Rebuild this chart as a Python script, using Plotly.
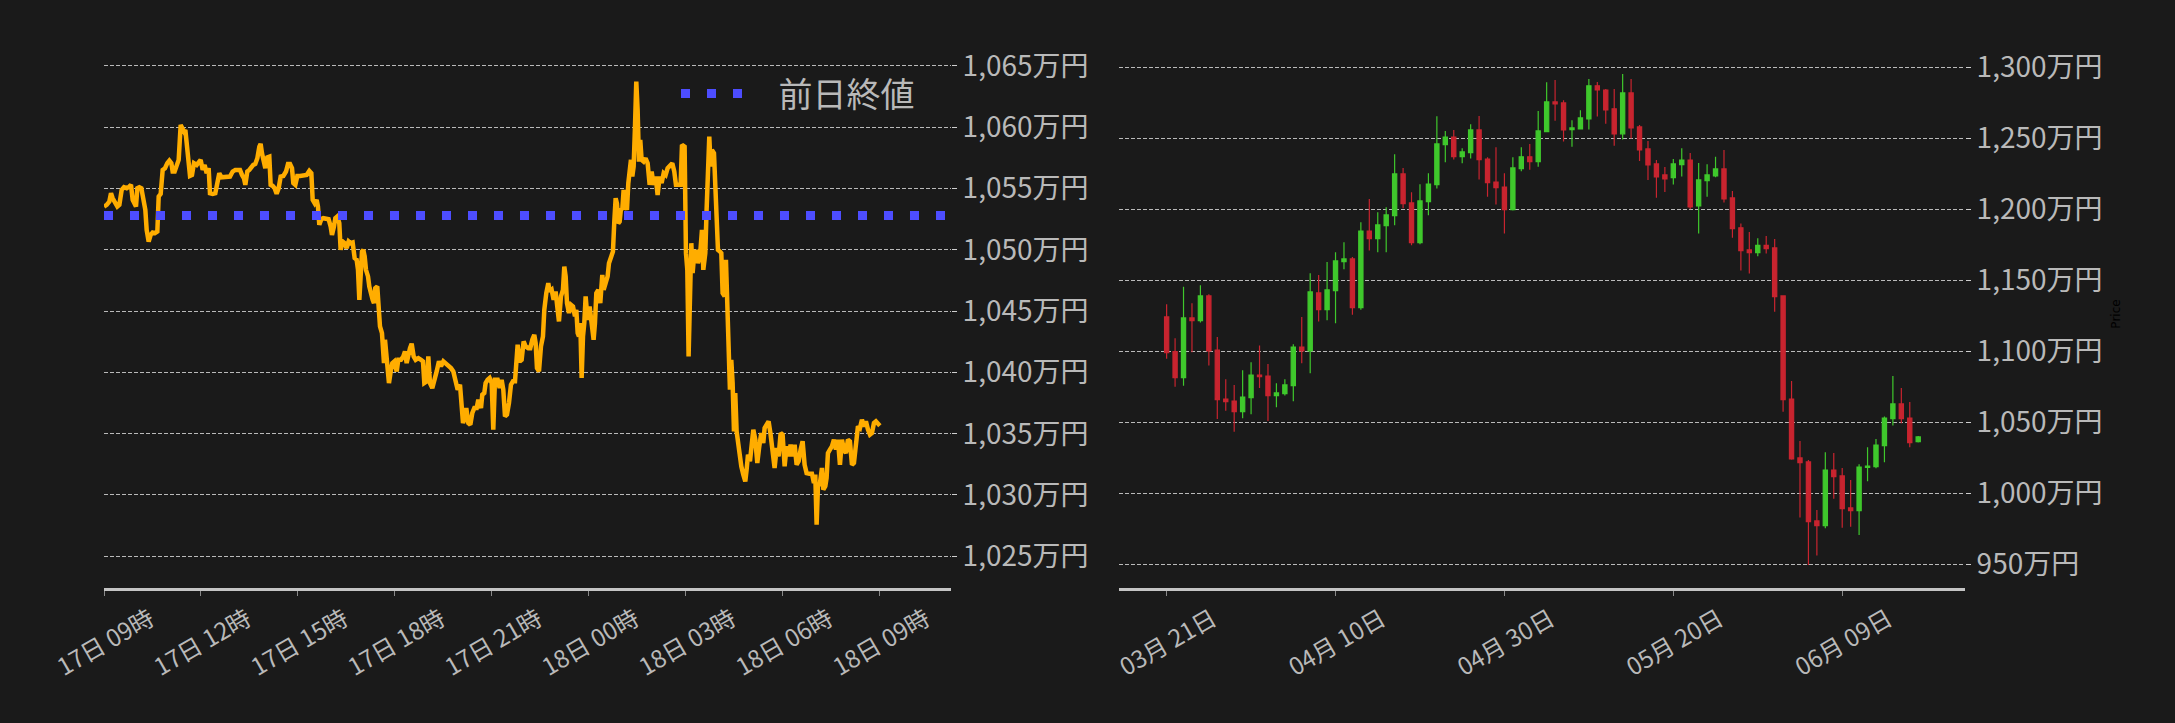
import pandas as pd
import plotly.graph_objects as go

# ---------------- data: intraday (left) ----------------
base_time = pd.Timestamp("2024-06-17 09:00")
intraday_minutes = [
    0.0, 5.0, 9.9, 13.0, 16.1, 20.4, 24.8, 28.5, 32.8, 37.1, 42.1, 47.0, 50.1, 53.2, 56.9, 59.4,
    61.9, 65.6, 69.3, 73.0, 76.7, 79.2, 82.9, 86.6, 90.3, 94.7, 99.0, 101.5, 105.2, 108.9, 113.2,
    117.5, 121.3, 125.0, 127.4, 131.1, 134.9, 138.6, 142.3, 144.8, 148.5, 151.0, 153.4, 156.5,
    159.6, 163.3, 167.0, 172.0, 175.7, 179.4, 183.1, 186.8, 190.5, 194.2, 196.7, 201.7, 206.6,
    210.3, 214.0, 217.8, 222.7, 227.7, 233.8, 238.8, 243.7, 248.7, 252.4, 256.1, 259.8, 262.3,
    266.0, 269.7, 273.4, 277.1, 280.8, 284.6, 288.3, 290.7, 293.2, 295.7, 299.4, 303.1, 306.8,
    309.3, 313.0, 316.7, 320.4, 324.2, 327.9, 332.8, 337.8, 341.5, 345.2, 348.9, 351.4, 355.1,
    358.8, 363.8, 369.9, 376.1, 381.0, 384.8, 387.3, 391.0, 394.7, 397.1, 399.6, 403.3, 407.0,
    412.0, 416.9, 420.7, 423.1, 426.8, 429.3, 433.0, 436.7, 439.2, 442.9, 446.6, 450.3, 454.0,
    457.8, 461.5, 465.2, 468.9, 471.4, 473.9, 476.3, 478.8, 481.3, 483.8, 486.2, 490.0, 492.4,
    496.1, 498.6, 501.1, 503.5, 507.2, 509.7, 512.2, 515.9, 519.6,
    521.5, 524.6, 528.9, 532.6, 535.1, 538.8, 543.2, 546.2, 551.2, 555.5, 558.6, 561.7, 564.8,
    567.9, 571.0, 574.7, 578.4, 583.4, 588.3, 592.0, 594.5, 599.4, 601.9, 605.0, 609.3, 613.1,
    617.4, 621.7, 625.4, 629.8, 634.1, 639.0, 644.0, 648.3, 652.6, 656.4, 660.7, 663.8, 666.3,
    668.7, 672.4, 676.2, 679.9, 683.6, 687.3, 691.6, 694.7, 699.7, 702.1, 705.8, 708.3, 712.0,
    715.7, 719.5, 722.5, 725.6, 730.6, 734.3, 738.0, 741.1, 744.2, 747.9, 751.6, 755.3, 759.0,
    762.8, 765.9, 767.7, 771.4, 775.1, 778.8, 782.5, 787.5, 791.2, 794.9, 798.6, 801.1, 803.6,
    807.3, 811.0, 814.7, 817.2, 820.9, 824.6, 827.1, 830.8, 834.5, 838.2, 841.9, 844.4, 848.1,
    851.8, 854.3, 856.8, 859.3, 863.0, 866.7, 870.4, 874.1, 876.6, 879.1, 881.5, 884.0, 886.5,
    889.0, 891.4, 893.9, 897.6, 901.3, 903.8, 906.3, 908.7, 911.2, 913.7, 917.4, 921.1, 924.8,
    927.3, 931.0, 934.7, 937.2, 940.9, 944.6, 947.1, 949.6, 952.0, 954.5, 957.0, 959.5, 961.9,
    964.4, 966.9, 970.6, 973.1, 975.5, 978.0, 980.5, 983.0, 985.5, 987.9, 990.4, 992.9, 995.3,
    997.8, 1001.5, 1005.2, 1009.0, 1012.7, 1016.4, 1020.1, 1023.8, 1027.5, 1031.2, 1034.9,
    1038.7, 1042.4, 1046.1, 1051.0, 1054.7, 1058.4,
    1061.5, 1066.5, 1070.2, 1072.7, 1077.6, 1080.1, 1082.6, 1085.0, 1087.5, 1090.0, 1092.5,
    1095.0, 1098.7, 1102.4, 1106.1, 1109.8, 1112.3, 1116.0, 1118.4, 1120.9, 1123.4, 1125.9,
    1128.3, 1132.1, 1135.8, 1139.5, 1143.2, 1145.7, 1148.1, 1151.9, 1154.3, 1156.8, 1159.3,
    1161.7, 1164.2, 1166.7, 1169.2, 1171.6, 1174.1, 1179.1, 1182.8, 1186.5, 1190.2, 1192.7,
    1195.2, 1198.9, 1202.6, 1205.1, 1208.8, 1212.5, 1216.2, 1219.9, 1223.6, 1226.1, 1229.8,
    1233.5, 1237.2, 1240.9, 1244.6, 1248.4, 1252.1, 1255.8, 1259.5, 1263.2, 1266.9, 1270.6,
    1274.3, 1278.0, 1281.8, 1285.5, 1289.2, 1292.9, 1296.6, 1300.3, 1304.0, 1309.0, 1313.9,
    1317.6, 1320.1, 1322.6, 1325.1, 1328.8, 1332.5, 1335.0, 1338.7, 1341.1, 1343.6, 1347.3,
    1351.0, 1354.7, 1358.5, 1362.2, 1365.9, 1369.6, 1373.3, 1377.0, 1380.7, 1384.4, 1388.2,
    1391.9, 1395.6, 1399.3, 1403.0, 1406.7, 1410.4, 1414.1, 1417.9, 1421.6, 1425.3, 1429.0,
    1432.7, 1437.6, 1440.0,
]
intraday_price = [
    1053.53, 1053.67, 1053.94, 1054.62, 1054.21, 1053.94, 1053.53, 1053.67, 1054.89, 1055.11,
    1055.03, 1055.16, 1055.30, 1054.08, 1053.67, 1053.53, 1055.03, 1055.11, 1055.03, 1054.21,
    1053.26, 1051.63, 1050.68, 1051.22, 1051.41, 1051.36, 1051.49, 1054.35, 1054.57, 1056.52,
    1056.66, 1057.07, 1057.28, 1057.07, 1056.39, 1056.39, 1056.79, 1057.34, 1060.19, 1059.92,
    1059.65, 1059.78, 1058.42, 1057.47, 1056.03, 1056.11, 1057.07, 1056.93, 1057.20, 1057.34,
    1056.52, 1056.93, 1056.25, 1056.66, 1054.62, 1054.57, 1054.62, 1055.44, 1056.25, 1055.92,
    1055.92, 1055.92, 1055.98, 1056.39, 1056.52, 1056.52, 1056.52, 1056.11, 1055.84, 1055.30,
    1056.39, 1056.52, 1056.79, 1056.93, 1057.01, 1057.47, 1058.42, 1058.64, 1057.88, 1057.34,
    1056.66, 1057.55, 1057.61, 1055.30, 1055.22, 1055.03, 1054.57, 1055.03, 1055.98, 1056.03,
    1056.39, 1057.01, 1057.01, 1056.66, 1055.44, 1055.30, 1056.03, 1056.03, 1056.03, 1056.11,
    1056.44, 1056.25, 1054.08, 1053.80, 1054.08, 1053.53, 1052.04, 1052.50, 1052.58, 1052.53,
    1052.50, 1051.90, 1051.22, 1051.90, 1052.58, 1052.72, 1052.17, 1050.00, 1050.68, 1050.54,
    1050.14, 1050.68, 1050.54, 1050.60, 1049.32, 1049.19, 1048.37, 1045.92, 1047.83, 1049.86,
    1050.00, 1049.46, 1048.37, 1047.83, 1047.01, 1046.20, 1045.92, 1045.65, 1046.88, 1047.01,
    1045.65, 1043.75, 1043.21, 1040.76,
    1042.66, 1040.76, 1039.13, 1040.22, 1040.76, 1040.90, 1040.08, 1041.03, 1041.03, 1041.30,
    1041.71, 1040.76, 1041.58, 1041.98, 1042.34, 1041.30, 1041.03, 1041.17, 1041.03, 1040.90,
    1039.13, 1039.27, 1041.30, 1039.13, 1038.72, 1039.54, 1040.08, 1040.90, 1040.49, 1040.90,
    1040.76, 1040.49, 1040.35, 1040.08, 1039.13, 1038.59, 1039.00, 1037.50, 1035.87, 1036.14,
    1037.09, 1035.87, 1035.73, 1036.69, 1037.09, 1037.09, 1037.77, 1037.09, 1038.18, 1038.32,
    1039.13, 1039.40, 1039.54, 1039.13, 1035.33, 1039.40, 1039.40, 1038.72, 1039.40, 1038.59,
    1036.41, 1036.55, 1037.50, 1039.00, 1039.27, 1039.27, 1040.76, 1042.26, 1040.90, 1041.03,
    1042.53, 1042.12, 1041.98, 1041.98, 1042.66, 1043.07, 1042.39, 1040.35, 1040.08, 1042.12,
    1042.94, 1045.11, 1046.47, 1047.28, 1046.60, 1046.74, 1045.92, 1046.60, 1045.11, 1044.16,
    1046.20, 1046.74, 1048.64, 1047.83, 1045.65, 1044.84, 1045.52, 1045.38, 1044.57, 1045.11,
    1043.21, 1042.94, 1044.02, 1039.54, 1042.94, 1044.02, 1046.20, 1044.29, 1045.38, 1044.43,
    1044.02, 1042.66, 1044.02, 1046.47, 1046.74, 1045.65, 1047.96, 1046.74, 1047.28, 1047.83,
    1048.91, 1049.46, 1049.86, 1052.31, 1054.21, 1053.80, 1052.17, 1052.31, 1053.40, 1053.26,
    1054.89, 1053.94, 1053.26, 1055.44, 1056.52, 1057.34, 1055.98, 1056.79, 1060.05, 1063.72,
    1061.41, 1057.20, 1058.97, 1057.34, 1057.20, 1057.47, 1057.07, 1055.30, 1056.39, 1055.30,
    1055.98, 1054.48, 1055.98, 1055.44, 1056.25, 1056.11, 1056.66, 1056.93, 1057.07, 1056.39,
    1055.30, 1055.30, 1055.30, 1058.56, 1058.42, 1049.73, 1048.37, 1041.30, 1048.10, 1050.54,
    1048.10, 1049.46, 1050.00, 1048.91, 1049.46, 1051.63, 1048.37, 1049.73, 1053.26, 1056.52,
    1059.24, 1056.79, 1058.15, 1057.88, 1053.80, 1050.00, 1049.86, 1049.73, 1046.47, 1046.20,
    1049.19, 1045.65, 1042.94, 1038.59, 1041.03, 1039.13, 1035.19, 1038.32, 1035.19, 1033.15,
    1032.34, 1031.66, 1031.11, 1032.07, 1033.29, 1032.75, 1034.78, 1035.33, 1034.51, 1032.61,
    1033.97, 1035.05, 1034.24, 1035.46, 1035.73, 1036.01, 1034.92, 1033.42, 1032.20, 1033.83,
    1033.15, 1035.05, 1034.92, 1032.34, 1033.97, 1033.15, 1034.10, 1033.15, 1034.10, 1032.47,
    1032.75, 1033.70, 1034.38, 1032.47, 1031.79, 1031.74, 1031.74, 1030.98, 1031.66, 1027.58,
    1030.71, 1030.98, 1032.20, 1030.44, 1030.71, 1031.39, 1033.42, 1033.70, 1033.97, 1034.51,
    1033.70, 1034.51, 1032.47, 1034.51, 1033.70, 1033.42, 1034.51, 1034.38, 1032.47, 1032.61,
    1034.24, 1035.60, 1035.46, 1036.14, 1035.60, 1036.01, 1035.33, 1034.92, 1035.05, 1035.87,
    1036.01, 1035.65, 1035.65,
]
prev_close = 1052.8
prev_close_label = "前日終値"
left_tick_hours = [0, 3, 6, 9, 12, 15, 18, 21, 24]
left_tick_labels = ["17日 09時", "17日 12時", "17日 15時", "17日 18時", "17日 21時",
                    "18日 00時", "18日 03時", "18日 06時", "18日 09時"]
left_y_ticks = [1025, 1030, 1035, 1040, 1045, 1050, 1055, 1060, 1065]

# ---------------- data: daily candles (right) ----------------
first_day = pd.Timestamp("2024-03-21")
day_open = [
    1124.2, 1099.8, 1081.5, 1123.5, 1121.6, 1139.0, 1100.9, 1066.4, 1065.0, 1057.5,
    1067.4, 1083.3, 1082.6, 1068.8, 1070.2, 1075.8, 1103.0, 1100.2, 1141.1, 1129.3,
    1142.7, 1163.1, 1165.0, 1130.8, 1184.7, 1179.3, 1188.5, 1195.5, 1224.9, 1204.5,
    1176.5, 1205.4, 1217.4, 1245.5, 1250.9, 1237.1, 1239.9, 1255.9, 1235.4, 1219.2,
    1215.7, 1199.8, 1228.6, 1236.9, 1233.6, 1254.7, 1275.6, 1274.9, 1256.1, 1256.6,
    1263.6, 1286.9, 1284.0, 1270.7, 1253.1, 1281.9, 1258.0, 1242.5, 1231.9, 1224.2,
    1222.3, 1231.5, 1234.7, 1202.3, 1220.2, 1223.5, 1228.4, 1208.0, 1186.9, 1171.4,
    1169.5, 1174.6, 1172.8, 1139.0, 1066.4, 1024.9, 1022.1, 980.5, 977.2, 1016.4,
    1012.2, 989.7, 987.8, 1018.2, 1018.8, 1033.6, 1052.6, 1062.9, 1053.0, 1036.4,
]
day_high = [
    1133.1, 1109.2, 1145.5, 1133.8, 1146.5, 1140.1, 1110.1, 1080.3, 1076.3, 1086.6,
    1092.3, 1104.0, 1091.1, 1077.5, 1080.3, 1104.9, 1124.2, 1154.9, 1153.8, 1162.9,
    1169.7, 1176.8, 1166.4, 1190.8, 1207.3, 1197.9, 1201.4, 1238.7, 1229.1, 1212.0,
    1217.6, 1225.4, 1265.5, 1255.2, 1255.9, 1243.0, 1259.9, 1265.7, 1236.6, 1243.7,
    1225.4, 1236.6, 1243.7, 1246.0, 1269.2, 1289.4, 1291.1, 1276.8, 1262.7, 1269.7,
    1291.8, 1289.7, 1284.7, 1284.7, 1295.3, 1291.8, 1259.4, 1248.1, 1234.7, 1229.8,
    1235.4, 1243.0, 1239.7, 1232.6, 1231.7, 1236.9, 1241.8, 1212.9, 1189.9, 1184.0,
    1179.6, 1181.2, 1179.1, 1139.0, 1079.1, 1036.9, 1023.5, 988.3, 1028.9, 1028.4,
    1017.8, 1009.4, 1020.4, 1032.4, 1038.3, 1054.0, 1082.6, 1074.2, 1064.3, 1040.4,
]
day_low = [
    1094.8, 1075.1, 1075.8, 1099.3, 1120.2, 1089.9, 1052.3, 1058.2, 1043.4, 1052.8,
    1055.6, 1074.1, 1050.9, 1060.6, 1068.8, 1064.8, 1091.5, 1084.5, 1120.9, 1121.8,
    1119.7, 1157.7, 1125.8, 1129.3, 1170.9, 1169.7, 1169.7, 1188.7, 1200.7, 1174.6,
    1175.4, 1195.8, 1214.6, 1233.1, 1235.0, 1232.4, 1235.7, 1220.9, 1208.9, 1203.3,
    1182.9, 1199.1, 1226.8, 1227.9, 1230.0, 1254.7, 1262.4, 1247.7, 1244.1, 1256.6,
    1256.1, 1265.3, 1260.3, 1244.8, 1249.1, 1249.8, 1234.0, 1220.7, 1208.2, 1212.2,
    1217.4, 1223.0, 1200.0, 1182.9, 1208.9, 1222.5, 1204.7, 1180.0, 1156.8, 1154.7,
    1166.9, 1168.8, 1127.9, 1057.5, 1023.7, 982.9, 949.5, 956.1, 975.4, 996.2,
    975.8, 976.5, 970.7, 1008.5, 1017.6, 1021.8, 1047.7, 1049.3, 1032.4, 1035.7,
]
day_close = [
    1099.1, 1081.5, 1123.5, 1121.6, 1139.0, 1100.2, 1066.0, 1064.6, 1057.5, 1067.8,
    1083.3, 1082.2, 1068.8, 1070.7, 1076.3, 1103.0, 1100.2, 1141.8, 1129.3, 1143.2,
    1163.6, 1165.0, 1130.8, 1184.7, 1179.3, 1189.0, 1196.0, 1224.9, 1204.0, 1176.5,
    1205.9, 1217.8, 1246.0, 1250.9, 1237.1, 1240.4, 1255.9, 1235.0, 1218.8, 1215.3,
    1199.8, 1229.1, 1236.9, 1233.6, 1255.2, 1275.6, 1274.2, 1255.9, 1257.3, 1264.3,
    1286.9, 1284.0, 1270.0, 1253.1, 1281.9, 1257.3, 1241.8, 1231.2, 1222.8, 1221.4,
    1231.9, 1234.7, 1201.6, 1220.7, 1224.2, 1228.4, 1207.3, 1186.4, 1170.9, 1169.5,
    1174.6, 1172.3, 1138.5, 1066.0, 1024.2, 1021.6, 980.0, 977.2, 1016.4, 1011.7,
    989.2, 987.8, 1018.5, 1019.2, 1034.0, 1053.0, 1062.9, 1052.6, 1035.7, 1039.7,
]
right_tick_days = [0, 20, 40, 60, 80]
right_tick_labels = ["03月 21日", "04月 10日", "04月 30日", "05月 20日", "06月 09日"]
right_y_ticks = [950, 1000, 1050, 1100, 1150, 1200, 1250, 1300]

# ---------------- build ----------------
BG = "#1a1a1a"
TXT = "#b9b9b9"
GRID = "rgba(215,215,215,0.85)"
FONT = "Noto Sans CJK JP"
GREEN = "#3fc82c"
RED = "#c8242f"

intraday_times = [base_time + pd.Timedelta(minutes=m) for m in intraday_minutes]
left_range = [base_time, base_time + pd.Timedelta(minutes=1572)]
left_tickvals = [base_time + pd.Timedelta(hours=h) for h in left_tick_hours]

days = [first_day + pd.Timedelta(days=i) for i in range(len(day_open))]
right_range = [first_day - pd.Timedelta(days=5.7), first_day + pd.Timedelta(days=94.54)]
right_tickvals = [first_day + pd.Timedelta(days=d) for d in right_tick_days]


def yen_labels(vals):
    return [f"{v:,}万円" for v in vals]


fig = go.Figure()
fig.add_trace(go.Scatter(
    x=intraday_times, y=intraday_price, mode="lines",
    line=dict(color="#ffad00", width=4.5), showlegend=False,
    xaxis="x", yaxis="y", hoverinfo="skip"))
fig.add_trace(go.Scatter(
    x=left_range, y=[prev_close, prev_close], mode="lines",
    name="\u00a0\u00a0\u00a0\u00a0" + prev_close_label,
    line=dict(color="#4d4dff", width=9, dash="9px,17px"),
    xaxis="x", yaxis="y"))
fig.add_trace(go.Candlestick(
    x=days, open=day_open, high=day_high, low=day_low, close=day_close,
    increasing=dict(line=dict(color=GREEN, width=1.2), fillcolor=GREEN),
    decreasing=dict(line=dict(color=RED, width=1.2), fillcolor=RED),
    showlegend=False, xaxis="x2", yaxis="y2"))

ydom = [1 - 588 / 723, 1 - 40 / 723]
xcommon = dict(
    type="date", showgrid=False, zeroline=False, showline=True, linewidth=3,
    linecolor="#c4c4c4", ticks="outside", ticklen=5, tickwidth=1, tickcolor="#8a8a8a",
    tickangle=-30, tickfont=dict(size=24, color=TXT, family=FONT), ticklabelshift=46,
    automargin=False,
)
ycommon = dict(
    side="right", showgrid=True, gridcolor=GRID, gridwidth=1, griddash="4px,2px",
    zeroline=False, showline=False, ticks="outside", ticklen=5, tickcolor="#cfcfcf",
    tickfont=dict(size=28, color=TXT, family=FONT), domain=ydom, automargin=False,
)

fig.update_layout(
    template="none",
    width=2175, height=723, autosize=False,
    margin=dict(l=0, r=0, t=0, b=0, pad=0),
    paper_bgcolor=BG, plot_bgcolor=BG,
    font=dict(family=FONT, color=TXT),
    boxgap=0.5, boxgroupgap=0,
    xaxis=dict(domain=[104 / 2175, 951 / 2175], anchor="y", range=left_range,
               tickmode="array", tickvals=left_tickvals, ticktext=left_tick_labels, **xcommon),
    yaxis=dict(anchor="x", range=[1022.41, 1067.12], tickmode="array", tickvals=left_y_ticks,
               ticktext=yen_labels(left_y_ticks), **ycommon),
    xaxis2=dict(domain=[1118.5 / 2175, 1965 / 2175], anchor="y2", range=right_range,
                tickmode="array", tickvals=right_tickvals, ticktext=right_tick_labels,
                rangeslider=dict(visible=False), **xcommon),
    yaxis2=dict(anchor="x2", range=[933.3, 1319.2], tickmode="array", tickvals=right_y_ticks,
                ticktext=yen_labels(right_y_ticks),
                title=dict(text="Price", font=dict(size=12, color="#000000", family="DejaVu Sans"),
                           standoff=10),
                **ycommon),
    legend=dict(x=676 / 2175, y=1 - 65 / 723, xanchor="left", yanchor="top",
                bgcolor="rgba(0,0,0,0)", borderwidth=0,
                font=dict(size=34, color=TXT, family=FONT), itemwidth=62),
    showlegend=True,
)

fig.write_html(
    "out.html",
    config={"displayModeBar": False},
    post_script="document.body.style.margin='0';document.body.style.overflow='hidden';"
                "document.body.style.background='#1a1a1a';",
)
